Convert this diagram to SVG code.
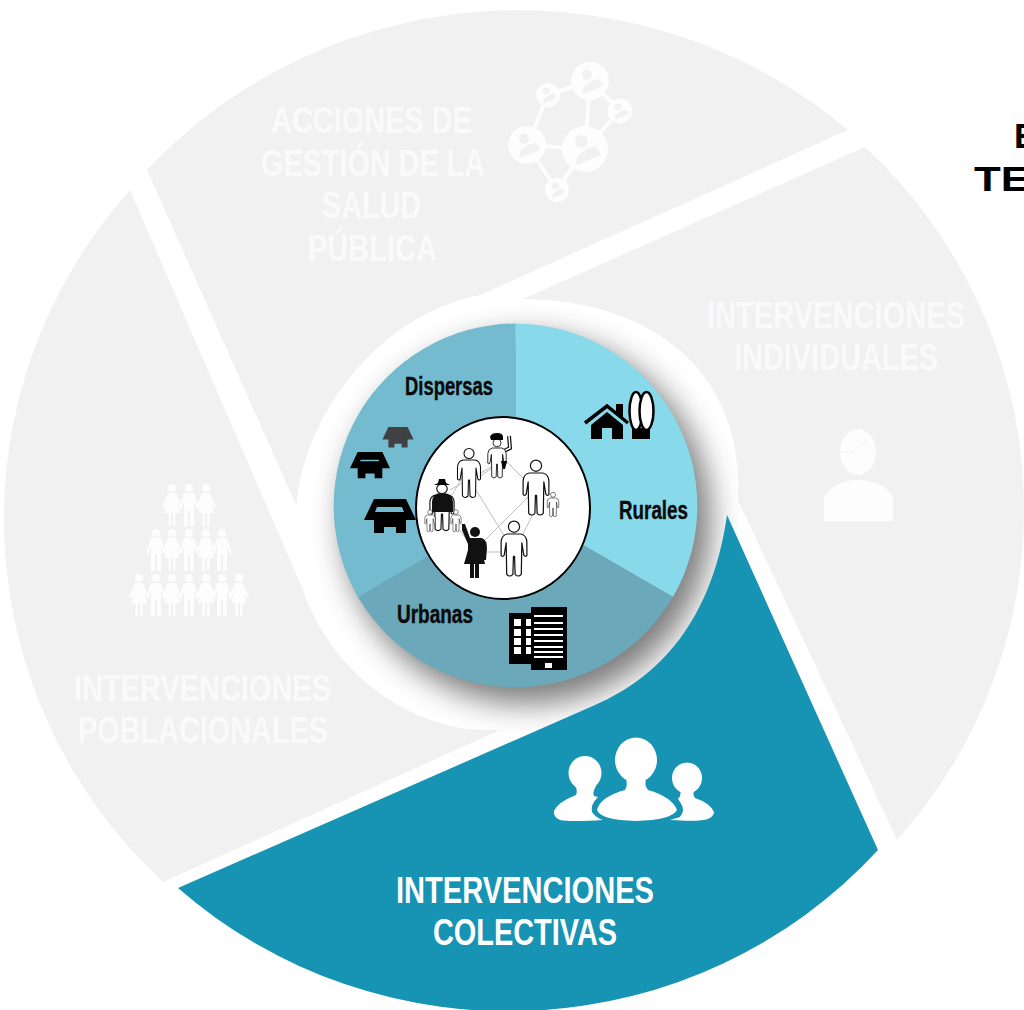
<svg xmlns="http://www.w3.org/2000/svg" xmlns:xlink="http://www.w3.org/1999/xlink" width="1024" height="1010" viewBox="0 0 1024 1010">
<style>
.seg{fill:#f1f1f1}
.lab{font-family:"Liberation Sans Narrow","Liberation Sans",Arial,sans-serif;font-weight:700;font-size:36px;fill:#fafafa}
.cap{font-family:"Liberation Sans Narrow","Liberation Sans",Arial,sans-serif;font-weight:700;font-size:25px;fill:#0a0a0a;stroke:#0a0a0a;stroke-width:.4}
.tt{font-family:"Liberation Sans",Arial,sans-serif;font-weight:700;font-size:35px;fill:#000}
.out{fill:#fff;stroke:#111;stroke-width:1.100;stroke-linejoin:round}
.net{stroke:#bdbdbd;stroke-width:1;fill:none}
.ic{fill:#fdfdfd}
.hole{fill:#f1f1f1}
</style>
<defs>
<filter id="blur" x="-30%" y="-30%" width="160%" height="160%"><feGaussianBlur stdDeviation="15"/></filter>
<g id="person"><circle cx="0" cy="-6.5" r="5"/><path d="M-6,0H6Q11,1 11.5,7L11.5,19Q10,21 8.8,19L7,8L6.5,36Q4,39 1,36L.5,20H-.5L-1,36Q-4,39 -6.5,36L-7,8L-8.8,19Q-10,21 -11.5,19L-11.5,7Q-11,1 -6,0Z"/></g>
<path id="man" d="M-5,5H5L10,20L7.5,21L5,12V38H1V22H-1V38H-5V12L-7.5,21L-10,20Z"/>
<path id="woman" d="M-4,5H4L10,19L8,20L5,15L8,25H3.5V38H1V25H-1V38H-3.5V25H-8L-5,15L-8,20L-10,19Z"/>
<g id="m"><circle cy="0" r="4"/><use xlink:href="#man" href="#man"/></g>
<g id="w"><circle cy="0" r="4"/><use xlink:href="#woman" href="#woman"/></g>
<path id="house" fill-rule="evenodd" d="M-16,0H16L26,21H16V34H6V28H-6V34H-16V21H-26ZM-13,8L-15,13H14L12,8Z"/>
<path id="house2" fill-rule="evenodd" d="M-16,0H16L26,21H16V34H6V28H-6V34H-16V21H-26ZM-12,10L-13,12H12L11,10Z"/>
<path id="house3" d="M-16,0H16L26,21H16V34H6V28H-6V34H-16V21H-26Z"/>
<g id="node"><circle class="ic" r="1"/><circle class="hole" cx="-.16" cy="-.34" r=".27"/><path class="hole" d="M-.4,.7L.7,.26L.49,-.1Q.1,-.1 -.34,.33Z"/></g>
</defs>

<g id="seg-gestion"><path class="seg" d="M848,130A505 495 0 0 0 147,170L297,507C298,440 360,320 480,295Z"/>
<g stroke="#fdfdfd" stroke-width="4"><path fill="none" d="M590,81L585,149M590,81L548,95M590,81L620,111M620,111L585,149M548,95L527,145M527,145L585,149M527,145L557,190M585,149L557,190"/></g>
<use href="#node" transform="translate(590,81) scale(19)"/><use href="#node" transform="translate(585,149) scale(23)"/><use href="#node" transform="translate(527,145) scale(19)"/><use href="#node" transform="translate(548,95) scale(12)"/><use href="#node" transform="translate(620,111) scale(12.5)"/><use href="#node" transform="translate(557,190) scale(12)"/>
<text class="lab" x="271" y="133" textLength="201" lengthAdjust="spacingAndGlyphs">ACCIONES DE</text>
<text class="lab" x="261" y="176" textLength="224" lengthAdjust="spacingAndGlyphs">GESTIÓN DE LA</text>
<text class="lab" x="322" y="218" textLength="99" lengthAdjust="spacingAndGlyphs">SALUD</text>
<text class="lab" x="308" y="261" textLength="129" lengthAdjust="spacingAndGlyphs">PÚBLICA</text>
</g>

<g id="seg-individuales"><path class="seg" d="M865,147A510 500 0 0 1 897,840L738,500C745,370 650,300 523,299Z"/>
<text class="lab" x="707" y="328" textLength="258" lengthAdjust="spacingAndGlyphs">INTERVENCIONES</text>
<text class="lab" x="734" y="370" textLength="204" lengthAdjust="spacingAndGlyphs">INDIVIDUALES</text>
<ellipse class="ic" cx="858" cy="452" rx="18" ry="23"/><path d="M840,452Q850,454 857,449L865,442L875,453" fill="none" stroke="#f1f1f1" stroke-width="1"/>
<path class="ic" d="M824,521V497Q835,480 858,480Q882,480 893,497V521Z"/>
</g>

<g id="seg-poblacionales"><path class="seg" d="M130,190A510 500 0 0 0 163,882L500,730C410,735 330,670 303,590Z"/>
<g class="ic">
<use href="#w" x="172" y="488"/><use href="#m" x="189" y="488"/><use href="#w" x="206" y="488"/>
<use href="#m" x="156" y="533"/><use href="#w" x="172" y="533"/><use href="#m" x="189" y="533"/><use href="#w" x="206" y="533"/><use href="#m" x="222" y="533"/>
<use href="#w" x="139" y="578"/><use href="#m" x="156" y="578"/><use href="#w" x="172" y="578"/><use href="#m" x="189" y="578"/><use href="#w" x="206" y="578"/><use href="#m" x="222" y="578"/><use href="#w" x="239" y="578"/>
</g>
<text class="lab" x="74" y="701" textLength="257" lengthAdjust="spacingAndGlyphs">INTERVENCIONES</text>
<text class="lab" x="78" y="743" textLength="250" lengthAdjust="spacingAndGlyphs">POBLACIONALES</text>
</g>

<circle id="shadow" cx="527" cy="520" r="184" fill="#444" opacity=".7" filter="url(#blur)"/>

<g id="seg-colectivas"><path fill="#1793b3" d="M727,515L878,850A497 487 0 0 1 178,888L595,705C660,677 712,620 727,515Z"/>
<g fill="#fff">
<ellipse cx="636" cy="760" rx="21" ry="22.500"/><path d="M597,810Q600,797 625,790Q628,785 626,778H646Q644,785 648,790Q672,797 677,810Q672,820 636,821Q600,820 597,810Z"/>
<ellipse cx="585" cy="773" rx="16.500" ry="17"/><path d="M554,811Q558,802 576,795Q578,790 575,786H596Q592,793 594,796L598,797Q590,805 592,812Q596,818 603,820Q570,822 560,820Q553,817 554,811Z"/>
<ellipse cx="687" cy="778" rx="15" ry="15.500"/><path d="M714,812Q710,803 695,798Q692,794 695,788H680Q682,795 678,799L680,802Q686,810 680,817L670,820Q700,822 708,819Q714,816 714,812Z"/>
</g>
<text class="lab" style="fill:#fff" x="396" y="903" textLength="258" lengthAdjust="spacingAndGlyphs">INTERVENCIONES</text>
<text class="lab" style="fill:#fff" x="433" y="945" textLength="184" lengthAdjust="spacingAndGlyphs">COLECTIVAS</text>
</g>

<g id="pie">
<path fill="#88d9ea" d="M515.500,506V323.500A182.500 182.500 0 0 1 673,597Z"/>
<path fill="#6ba8ba" d="M515.500,506L673,597A182.500 182.500 0 0 1 358,597Z"/>
<path fill="#74bbd0" d="M515.500,506L358,597A182.500 182.500 0 0 1 515.500,323.500Z"/>
<text class="cap" x="405" y="395" textLength="88" lengthAdjust="spacingAndGlyphs">Dispersas</text>
<text class="cap" x="619" y="519" textLength="69" lengthAdjust="spacingAndGlyphs">Rurales</text>
<text class="cap" x="397" y="623" textLength="76" lengthAdjust="spacingAndGlyphs">Urbanas</text>
<use href="#house" transform="translate(390,499)"/>
<use href="#house2" transform="translate(370,452) scale(.77)"/>
<use href="#house3" fill="#414042" transform="translate(398,427) scale(.6)"/>
<g id="rural-house"><path d="M585,423L607,406L628,423" fill="none" stroke="#000" stroke-width="3.500"/><path d="M616,404H623V420L616,414ZM591,425L607,412L623,425V439H612V428H602V439H591Z"/>
<path d="M632,428H650V439H632Z"/><ellipse cx="636" cy="411" rx="6.500" ry="19" fill="#fff" stroke="#000" stroke-width="2.500"/><ellipse cx="646.500" cy="411" rx="7" ry="19" fill="#fff" stroke="#000" stroke-width="2.500"/></g>
<g id="building"><path d="M509,613H532V664H509Z"/><path d="M531,607H567V670H531Z"/>
<path fill="#fff" d="M514,619h7v7h-7zM526,619h5v7h-5zM514,629h7v7h-7zM526,629h5v7h-5zM514,638h7v7h-7zM526,638h5v7h-5zM514,647h7v7h-7zM526,647h5v7h-5zM545,663h7v5h-7z"/>
<path stroke="#fff" stroke-width="2" d="M534,616H563M534,623H563M534,629H563M534,635H563M534,641H563M534,647H563M534,652H563M534,657H563"/></g>
</g>

<g id="community">
<ellipse cx="503" cy="508" rx="87" ry="91" fill="#fff" stroke="#000" stroke-width="2"/>
<path class="net" d="M480,476L497,465M505,460L525,480M535,510L520,540M530,495L480,545M476,490L510,545M485,552H503M460,530L470,545M452,495L462,478M450,490L495,465"/>
<use href="#person" class="out" transform="translate(469,460)"/>
<use href="#person" class="out" transform="translate(536,473) scale(1.12)"/>
<use href="#person" class="out" transform="translate(514,534) scale(1.12)"/>
<use href="#person" class="out" transform="translate(553,498) scale(.5)"/>
<g id="raised"><path d="M504,451L510,448L509,436" fill="none" stroke="#111" stroke-width="4"/><path d="M504,451L510,448L509,436" fill="none" stroke="#fff" stroke-width="1.500"/>
<use href="#person" class="out" transform="translate(497,448) scale(.8)"/>
<path d="M490,437Q491,433 497,433Q503,433 503,437V440H491Z"/><path d="M501,461H507L505,469H503Z"/></g>
<use href="#person" class="out" transform="translate(442,495) scale(1.05 .95)"/>
<path d="M432,502Q432,493 442,493Q453,493 453,502V512H432Z" fill="#111"/>
<path d="M434,485H450L446,483L445,479H439L438,483Z"/>
<use href="#person" class="out" transform="translate(430,515) scale(.45)"/>
<use href="#person" class="out" transform="translate(456,515) scale(.45)"/>
<g id="woman-black" fill="#111"><circle cx="475" cy="532" r="5"/><path d="M469,538H482Q487,540 487,548L486,560H483L482,550L485,564H479V578H475V564H474V578H470V564H464L468,550L468,544L462,530V524L465,524L470,538Z"/></g>
</g>

<g id="title"><text class="tt" x="1014" y="148">E</text><text class="tt" x="974" y="191" textLength="56" lengthAdjust="spacingAndGlyphs">TE</text></g>
</svg>
